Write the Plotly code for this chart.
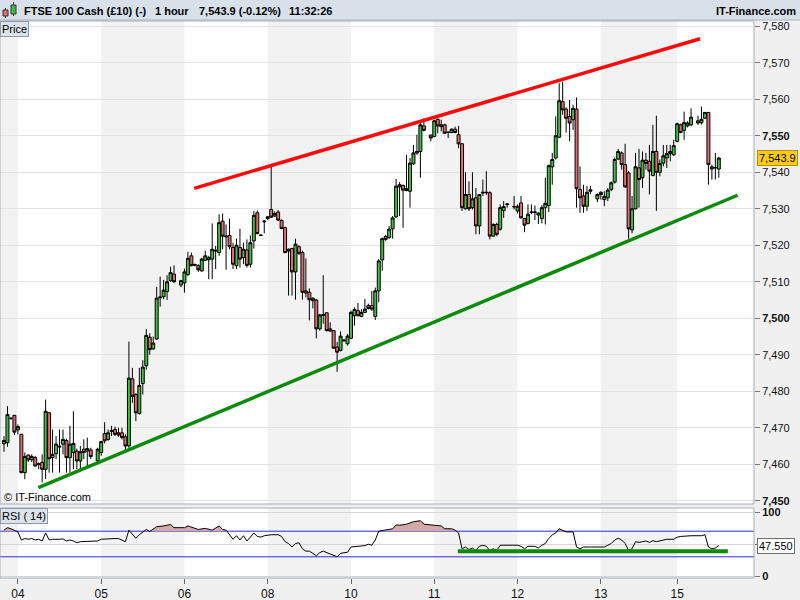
import plotly.graph_objects as go
import numpy as np

# ---------------- data ----------------
day_labels = ["04", "05", "06", "08", "10", "11", "12", "13", "15"]
day_start_slot = [4, 28, 52, 76, 100, 124, 148, 172, 194]
shaded_days = [(-1.2, 4), (28, 52), (76, 100), (124, 148), (172, 194)]
missing_slots = [26, 50, 122, 146, 170, 199]
n_slots = 207
slots = [s for s in range(n_slots) if s not in missing_slots]

opens = [
    # day 04
    7465.6, 7465.9, 7472.5, 7473.4, 7469.4, 7468.2, 7457.7, 7462.5, 7461.2, 7461.8, 7459.9, 7460.5, 7458.6,
    7474.1, 7461.8, 7462.9, 7464.7, 7465.5, 7466.5, 7461.8, 7463.2, 7463.6, 7460.9, 7464.1, 7463.6, 7463.9,
    # day 05
    7460.9, 7463.2, 7468.4, 7466.8, 7469.0, 7469.5, 7468.6, 7468.6, 7467.5, 7465.0, 7483.4, 7479.1, 7473.9,
    7482.1, 7487.0, 7494.8, 7491.6, 7494.3, 7505.6, 7505.9, 7507.3, 7510.3, 7512.1,
    # days 06 - 11
    7509.1, 7509.7, 7512.0, 7517.1, 7514.5, 7514.4, 7513.0, 7515.9, 7516.6, 7516.2, 7518.4, 7518.0, 7526.6,
    7522.3, 7522.7, 7519.4, 7514.4, 7519.4, 7516.6, 7518.7, 7514.8, 7521.2, 7528.9, 7522.8, 7526.4, 7527.3,
    7529.8, 7528.0, 7529.1, 7526.8, 7524.8, 7518.9, 7519.1, 7512.7, 7519.6, 7518.0, 7507.5, 7507.1, 7504.8,
    7505.0, 7497.1, 7500.8, 7501.5, 7497.1, 7496.6, 7492.1, 7491.2, 7493.8, 7493.0, 7494.5, 7500.7, 7502.1,
    7500.5, 7501.6, 7503.5, 7503.5, 7500.5, 7507.5, 7516.0, 7522.4, 7522.1, 7524.5, 7527.8, 7536.6, 7536.4,
    7535.5, 7534.8, 7542.3, 7545.3, 7545.7, 7552.7,
    # day 11 (cont.)
    7550.2, 7549.8, 7554.5, 7553.0, 7553.0, 7550.9, 7550.9, 7551.8, 7550.3, 7547.8, 7530.0, 7533.9, 7530.3,
    7533.0, 7525.3, 7534.3, 7534.4, 7534.4, 7522.5, 7525.7, 7524.4, 7529.5, 7531.2,
    # day 12
    7530.5, 7529.4, 7531.6, 7527.3, 7526.0, 7529.0, 7529.0, 7528.3, 7527.3, 7530.3, 7530.9, 7541.5, 7543.9,
    7549.6, 7559.4, 7557.3, 7555.3, 7554.4, 7557.3, 7535.3, 7533.5, 7530.7, 7534.8,
    # days 13 - 15
    7532.7, 7534.5, 7532.5, 7533.0, 7535.3, 7537.3, 7543.6, 7545.3, 7542.1, 7539.8, 7524.2, 7530.0, 7541.2,
    7538.5, 7543.3, 7543.0, 7539.1, 7545.7, 7540.0, 7542.5, 7543.9, 7545.1, 7544.8, 7548.5, 7553.0, 7551.5,
    7552.7, 7553.0,
    7554.1, 7553.6, 7554.8, 7556.4, 7541.5, 7541.2, 7540.9,
]
highs = [
    7467.7, 7475.9, 7472.8, 7473.5, 7470.9, 7468.3, 7463.2, 7462.7, 7462.7, 7462.3, 7460.5, 7462.7, 7477.7,
    7474.2, 7469.5, 7467.7, 7469.5, 7469.5, 7467.0, 7470.5, 7474.5, 7464.3, 7465.0, 7466.8, 7467.3, 7464.5,
    7464.5, 7466.4, 7471.5, 7469.5, 7470.5, 7470.3, 7470.0, 7470.0, 7468.2, 7493.6, 7486.4, 7479.5, 7486.4,
    7488.5, 7497.0, 7495.9, 7495.0, 7508.6, 7511.4, 7510.5, 7511.8, 7514.1, 7514.5,
    7510.5, 7513.6, 7518.2, 7518.0, 7515.0, 7514.8, 7516.6, 7518.5, 7517.1, 7526.0, 7519.8, 7528.5, 7528.7,
    7525.7, 7527.3, 7520.7, 7521.8, 7524.5, 7520.7, 7521.6, 7522.7, 7529.4, 7529.5, 7522.9, 7526.9, 7528.0,
    7542.1, 7529.3, 7529.6, 7527.1, 7525.1, 7519.1, 7519.3, 7521.8, 7520.0, 7518.5, 7516.4, 7508.2, 7505.7,
    7505.3, 7501.2, 7511.8, 7501.6, 7498.9, 7496.7, 7493.5, 7496.4, 7494.2, 7495.7, 7502.1, 7503.0, 7504.2,
    7502.5, 7505.3, 7504.0, 7507.5, 7508.4, 7516.2, 7522.1, 7522.8, 7525.3, 7528.0, 7538.2, 7537.3, 7536.6,
    7544.8, 7543.9, 7547.5, 7550.3, 7553.5, 7554.8,
    7550.3, 7554.4, 7554.8, 7554.4, 7553.3, 7551.1, 7552.0, 7552.5, 7552.7, 7548.0, 7540.0, 7537.5, 7540.0,
    7535.7, 7534.0, 7538.0, 7540.3, 7534.8, 7526.0, 7526.2, 7531.2, 7532.1, 7531.5,
    7533.5, 7531.2, 7533.5, 7527.5, 7531.2, 7531.2, 7530.9, 7529.0, 7531.0, 7538.5, 7542.1, 7545.3, 7555.3,
    7564.4, 7564.8, 7557.8, 7559.8, 7558.5, 7560.5, 7541.6, 7536.6, 7536.2, 7536.3,
    7534.2, 7534.8, 7534.8, 7535.7, 7537.5, 7544.0, 7546.4, 7545.7, 7547.8, 7540.3, 7533.5, 7545.3, 7546.4,
    7545.7, 7545.3, 7547.5, 7553.0, 7555.5, 7543.5, 7547.5, 7547.5, 7547.5, 7548.9, 7553.6, 7553.3, 7556.6,
    7554.0, 7557.5,
    7555.5, 7558.0, 7556.5, 7556.5, 7542.1, 7545.3, 7544.2,
]
lows = [
    7463.4, 7464.8, 7472.2, 7468.0, 7468.2, 7457.5, 7455.9, 7460.6, 7460.6, 7459.4, 7458.6, 7455.0, 7455.9,
    7457.7, 7457.7, 7461.4, 7457.7, 7462.7, 7457.7, 7457.7, 7458.6, 7458.6, 7458.6, 7461.4, 7459.5, 7461.4,
    7460.5, 7462.3, 7465.7, 7466.4, 7467.7, 7467.7, 7467.5, 7466.8, 7463.6, 7464.5, 7476.8, 7471.8, 7473.6,
    7479.1, 7485.9, 7490.0, 7491.4, 7494.1, 7503.2, 7505.2, 7505.0, 7510.0, 7509.7,
    7508.5, 7507.0, 7511.5, 7514.2, 7514.2, 7512.7, 7512.7, 7515.7, 7510.7, 7510.7, 7513.5, 7517.1, 7518.9,
    7513.3, 7518.9, 7513.5, 7513.5, 7513.9, 7514.8, 7513.9, 7513.9, 7519.1, 7523.0, 7522.5, 7523.3, 7526.9,
    7527.5, 7527.8, 7526.6, 7524.4, 7517.8, 7506.2, 7506.2, 7505.1, 7517.3, 7505.1, 7505.7, 7499.4, 7502.7,
    7494.5, 7496.6, 7498.5, 7496.4, 7496.2, 7491.6, 7485.3, 7490.9, 7493.6, 7492.5, 7494.3, 7498.0, 7500.5,
    7500.3, 7501.4, 7502.4, 7502.0, 7499.5, 7504.4, 7513.0, 7521.2, 7521.8, 7521.8, 7527.5, 7528.0, 7524.8,
    7534.8, 7530.3, 7542.0, 7544.8, 7538.5, 7551.2,
    7548.5, 7549.6, 7550.7, 7551.2, 7550.5, 7549.4, 7550.7, 7550.7, 7546.6, 7529.4, 7529.8, 7529.4, 7529.8,
    7523.0, 7523.0, 7533.5, 7533.8, 7521.6, 7522.4, 7522.5, 7524.0, 7527.5, 7530.3,
    7529.8, 7528.7, 7527.3, 7523.6, 7525.7, 7528.5, 7526.9, 7525.8, 7526.0, 7525.7, 7529.1, 7536.6, 7543.5,
    7549.4, 7555.7, 7550.9, 7548.5, 7551.6, 7530.3, 7528.9, 7528.9, 7529.4, 7534.0,
    7531.8, 7532.5, 7530.7, 7532.1, 7534.8, 7536.9, 7543.5, 7540.7, 7535.7, 7521.8, 7523.3, 7529.8, 7530.3,
    7535.7, 7540.7, 7533.9, 7538.9, 7529.4, 7538.9, 7541.6, 7541.2, 7543.0, 7544.5, 7548.2, 7550.7, 7548.9,
    7552.3, 7552.7,
    7553.0, 7553.1, 7554.6, 7536.6, 7538.0, 7538.0, 7538.5,
]
closes = [
    7466.5, 7473.6, 7472.6, 7468.8, 7470.3, 7457.7, 7462.1, 7461.2, 7462.1, 7459.5, 7460.1, 7458.6, 7474.5,
    7461.5, 7462.7, 7465.5, 7464.9, 7466.8, 7461.8, 7465.5, 7465.7, 7460.9, 7463.4, 7463.2, 7464.3, 7462.1,
    7464.1, 7466.2, 7466.4, 7468.6, 7469.2, 7468.2, 7468.0, 7467.3, 7465.0, 7483.6, 7478.6, 7474.1, 7481.6,
    7486.6, 7495.3, 7491.4, 7493.2, 7505.5, 7505.8, 7507.7, 7510.0, 7512.5, 7510.0,
    7510.3, 7512.7, 7516.4, 7514.4, 7514.7, 7513.3, 7516.2, 7517.1, 7516.0, 7518.9, 7518.6, 7526.2, 7522.5,
    7522.5, 7519.6, 7514.8, 7520.0, 7516.2, 7518.9, 7514.5, 7520.7, 7528.2, 7523.2, 7522.7, 7526.6, 7527.8,
    7527.7, 7528.7, 7526.9, 7524.6, 7518.0, 7518.4, 7512.7, 7520.3, 7517.8, 7507.1, 7506.9, 7505.1, 7505.5,
    7497.1, 7500.9, 7501.0, 7496.6, 7496.5, 7491.8, 7490.7, 7495.1, 7494.0, 7495.1, 7501.6, 7502.4, 7500.7,
    7501.6, 7502.5, 7502.7, 7502.5, 7507.5, 7515.7, 7521.8, 7521.6, 7524.4, 7527.5, 7536.2, 7536.0, 7535.1,
    7535.0, 7542.5, 7545.3, 7545.7, 7553.0, 7551.5,
    7549.4, 7554.1, 7552.7, 7552.5, 7550.7, 7551.0, 7551.8, 7550.9, 7547.8, 7530.3, 7533.9, 7530.0, 7532.7,
    7525.3, 7533.9, 7534.5, 7534.5, 7522.5, 7525.7, 7523.0, 7530.3, 7530.6, 7531.3,
    7530.6, 7530.7, 7527.5, 7525.5, 7528.5, 7529.1, 7529.1, 7528.8, 7530.3, 7531.5, 7541.8, 7543.5, 7550.0,
    7559.6, 7557.1, 7554.8, 7553.5, 7557.5, 7535.5, 7533.0, 7530.7, 7534.5, 7535.2,
    7533.9, 7533.9, 7533.4, 7535.1, 7537.1, 7543.5, 7545.7, 7542.1, 7536.0, 7524.5, 7530.0, 7541.5, 7538.0,
    7543.3, 7542.4, 7540.3, 7545.7, 7540.0, 7542.4, 7544.5, 7545.1, 7545.7, 7547.3, 7553.3, 7550.9, 7553.6,
    7553.5, 7555.1,
    7553.5, 7554.5, 7556.4, 7542.1, 7540.9, 7541.3, 7543.9,
]

rsi_slot = [0, 1, 2, 4, 5, 6, 7, 8, 9, 10, 11, 12, 13, 14, 16, 17, 18, 19, 20, 21, 22, 24, 25, 27, 28, 30, 32,
            33, 35, 36, 37, 38, 39, 40, 41, 42, 44, 46, 48, 49, 52, 53, 55, 56, 58, 60, 62, 63, 64, 65, 66, 67,
            68, 69, 70, 71, 72, 73, 74, 75, 77, 79, 80, 81, 82, 83, 84, 85, 86, 87, 88, 89, 90, 91, 92, 94, 95,
            96, 97, 98, 99, 100, 101, 102, 104, 105, 106, 107, 108, 110, 112, 113, 114, 116, 118, 120, 121, 124,
            126, 127, 129, 130, 131, 132, 133, 134, 135, 136, 137, 138, 139, 140, 141, 142, 143, 145, 147, 148,
            149, 150, 151, 152, 153, 154, 155, 156, 157, 158, 159, 160, 161, 162, 164, 165, 166, 167, 169, 171,
            173, 174, 175, 176, 177, 178, 179, 180, 181, 182, 183, 184, 185, 186, 187, 188, 189, 190, 191, 193,
            194, 195, 197, 198, 200, 201, 202, 203, 204, 205, 206]
rsi_val = [71.6, 75.5, 73.8, 68.9, 56.3, 58.5, 57.4, 58.5, 56.3, 57.4, 54.7, 67.3, 56.3, 57.4, 57.4, 57.9, 54.7,
           56.3, 54.7, 51.9, 53.6, 53.6, 53.6, 54.7, 57.4, 58.5, 58.5, 58.5, 53.6, 71.6, 64.5, 59.0, 64.5, 68.9,
           72.7, 69.5, 77.1, 78.2, 80.4, 75.5, 75.5, 78.2, 74.4, 72.7, 74.4, 71.6, 78.2, 72.7, 71.6, 64.5, 57.4,
           62.9, 56.3, 62.9, 54.7, 60.7, 67.3, 61.8, 60.7, 62.9, 64.5, 64.5, 61.8, 53.6, 50.8, 45.3, 50.8, 51.9,
           42.6, 38.8, 38.8, 35.5, 31.6, 36.6, 38.8, 34.4, 31.6, 30.0, 35.5, 36.6, 37.1, 45.3, 46.4, 46.4, 47.5,
           49.7, 48.1, 56.3, 70.0, 71.6, 73.8, 79.9, 79.3, 81.0, 84.8, 86.4, 81.0, 79.3, 78.2, 73.8, 73.8, 71.6,
           67.3, 42.6, 45.3, 41.5, 43.7, 39.9, 46.4, 48.1, 46.4, 39.9, 42.6, 39.9, 48.1, 48.1, 48.1, 48.1, 46.4,
           42.6, 46.4, 46.4, 46.4, 43.7, 48.1, 50.8, 58.8, 64.2, 67.3, 73.8, 71.6, 68.9, 68.9, 45.3, 42.6, 45.3,
           45.3, 45.3, 45.3, 48.1, 50.8, 56.3, 59.0, 56.3, 50.8, 39.9, 42.6, 53.6, 52.5, 53.6, 54.7, 52.5, 55.2,
           53.6, 54.7, 56.3, 57.4, 57.4, 60.7, 61.8, 62.9, 62.9, 62.9, 62.9, 64.5, 45.3, 42.6, 43.7, 47.55]

resistance_x = [54.8, 200.6]
resistance_y = [7535.6, 7576.6]
support_x = [9.9, 211.4]
support_y = [7453.6, 7533.7]
rsi_support_x = [130.8, 208.6]
rsi_support_y = [38.5, 38.5]

last_price = 7543.9
last_rsi = 47.55
price_ticks = list(range(7450, 7581, 10))
rsi_upper, rsi_lower = 70, 30

# ---------------- geometry helpers (pixel -> paper) ----------------
W, H = 800, 600
ML, MR, MT, MB = 0, 46, 21, 22
PW, PH = W - ML - MR, H - MT - MB


def px(x):
    return (x - ML) / PW


def py(y):
    return (H - MB - y) / PH


FONT = "Liberation Sans, Arial, sans-serif"

fig = go.Figure()

fig.add_trace(go.Candlestick(
    x=slots, open=opens, high=highs, low=lows, close=closes,
    increasing=dict(fillcolor="#3FBF3F", line=dict(color="black", width=1)),
    decreasing=dict(fillcolor="#E46E6E", line=dict(color="black", width=1)),
    whiskerwidth=0, hoverinfo="skip", xaxis="x", yaxis="y", showlegend=False))

fig.add_trace(go.Scatter(x=resistance_x, y=resistance_y, mode="lines",
                         line=dict(color="#FF0A0A", width=3.5), xaxis="x", yaxis="y",
                         hoverinfo="skip", showlegend=False))
fig.add_trace(go.Scatter(x=support_x, y=support_y, mode="lines",
                         line=dict(color="#0B8A0B", width=3.5), xaxis="x", yaxis="y",
                         hoverinfo="skip", showlegend=False))

# RSI panel
rsi_arr = np.array(rsi_val)
fig.add_trace(go.Scatter(x=rsi_slot, y=[rsi_upper] * len(rsi_slot), mode="lines",
                         line=dict(width=0, color="rgba(0,0,0,0)"), xaxis="x", yaxis="y2",
                         hoverinfo="skip", showlegend=False))
fig.add_trace(go.Scatter(x=rsi_slot, y=np.maximum(rsi_arr, rsi_upper), mode="lines",
                         line=dict(width=0, color="rgba(0,0,0,0)"), fill="tonexty",
                         fillcolor="#D3AAA6", xaxis="x", yaxis="y2",
                         hoverinfo="skip", showlegend=False))
fig.add_trace(go.Scatter(x=rsi_slot, y=rsi_val, mode="lines",
                         line=dict(color="black", width=1), xaxis="x", yaxis="y2",
                         hoverinfo="skip", showlegend=False))
fig.add_trace(go.Scatter(x=rsi_support_x, y=rsi_support_y, mode="lines",
                         line=dict(color="#0B8A0B", width=4), xaxis="x", yaxis="y2",
                         hoverinfo="skip", showlegend=False))

shapes = []
# alternating day shading in both panels
for a, b in shaded_days:
    for yr in ("y domain", "y2 domain"):
        shapes.append(dict(type="rect", xref="x", yref=yr, x0=a, x1=b, y0=0, y1=1,
                           fillcolor="#F2F2F2", line=dict(width=0), layer="below"))
# RSI 30 / 70 lines
for lvl in (rsi_upper, rsi_lower):
    shapes.append(dict(type="line", xref="paper", yref="y2", x0=0, x1=1, y0=lvl, y1=lvl,
                       line=dict(color="#2B2BD6", width=1), layer="between"))
# panel frames
for yr in ("y domain", "y2 domain"):
    shapes.append(dict(type="rect", xref="paper", yref=yr, x0=0, x1=1, y0=0, y1=1,
                       line=dict(color="#A3AEB9", width=1), fillcolor="rgba(0,0,0,0)", layer="above"))
# header bar
shapes.append(dict(type="rect", xref="paper", yref="paper", x0=px(0), x1=px(800), y0=py(20), y1=py(0),
                   fillcolor="#D8E1EA", line=dict(width=0), layer="above"))
shapes.append(dict(type="line", xref="paper", yref="paper", x0=px(0), x1=px(800), y0=py(20), y1=py(20),
                   line=dict(color="#A7B3BF", width=1), layer="above"))
# header candle icon
shapes.append(dict(type="line", xref="paper", yref="paper", x0=px(5.5), x1=px(5.5), y0=py(18), y1=py(8),
                   line=dict(color="#333", width=1), layer="above"))
shapes.append(dict(type="rect", xref="paper", yref="paper", x0=px(3), x1=px(8), y0=py(16), y1=py(10),
                   fillcolor="#E46E6E", line=dict(color="#333", width=1), layer="above"))
shapes.append(dict(type="line", xref="paper", yref="paper", x0=px(13.5), x1=px(13.5), y0=py(16), y1=py(2),
                   line=dict(color="#333", width=1), layer="above"))
shapes.append(dict(type="rect", xref="paper", yref="paper", x0=px(11), x1=px(16), y0=py(14), y1=py(5),
                   fillcolor="#3FBF3F", line=dict(color="#333", width=1), layer="above"))

annotations = []


def note(text, x, y, xanchor="left", yanchor="middle", size=11, **kw):
    annotations.append(dict(text=text, x=px(x), y=py(y), xref="paper", yref="paper",
                            xanchor=xanchor, yanchor=yanchor, showarrow=False,
                            font=dict(family=FONT, size=size, color="#000"), **kw))


note("<b>FTSE 100 Cash (£10) (-)</b>", 22, 10.5)
note("<b>1 hour</b>", 153, 10.5)
note("<b>7,543.9 (-0.12%)</b>", 197, 10.5)
note("<b>11:32:26</b>", 287, 10.5)
note("<b>IT-Finance.com</b>", 798, 10.5, xanchor="right")
note("Price", 0, 21, yanchor="top", bgcolor="#DCE3EA", bordercolor="#8E9BA8", borderwidth=1, borderpad=1)
note("RSI ( 14)", 0, 508, yanchor="top", bgcolor="#DCE3EA", bordercolor="#8E9BA8", borderwidth=1, borderpad=1)
note("© IT-Finance.com", 2, 497)

annotations.append(dict(text="7,543.9", x=px(757), y=last_price, xref="paper", yref="y",
                        xanchor="left", yanchor="middle", showarrow=False,
                        font=dict(family=FONT, size=11, color="#000"),
                        bgcolor="#FFCC11", bordercolor="#B58E00", borderwidth=1, borderpad=1))
annotations.append(dict(text="47.550", x=px(757), y=last_rsi, xref="paper", yref="y2",
                        xanchor="left", yanchor="middle", showarrow=False,
                        font=dict(family=FONT, size=11, color="#000"),
                        bgcolor="#FFFFFF", bordercolor="#6E6E6E", borderwidth=1, borderpad=1))

price_ticktext = [("<b>%s</b>" % f"{v:,}") if v % 50 == 0 else f"{v:,}" for v in price_ticks]

fig.update_layout(
    width=W, height=H,
    margin=dict(l=ML, r=MR, t=MT, b=MB, pad=0),
    paper_bgcolor="#F0F0F0", plot_bgcolor="#FFFFFF",
    font=dict(family=FONT, size=11, color="#000"),
    showlegend=False, hovermode=False,
    boxgap=0.1, boxgroupgap=0.05,
    xaxis=dict(range=[(0 - 4) / 3.47, (754 - 4) / 3.47], anchor="y2",
               tickvals=day_start_slot, ticktext=day_labels, ticks="outside", ticklen=5,
               tickcolor="#666", tickfont=dict(size=12, family=FONT, color="#111"),
               showgrid=False, zeroline=False, showline=False,
               rangeslider=dict(visible=False), fixedrange=True),
    yaxis=dict(domain=[py(504), py(21)], range=[7449.1, 7581.45], side="right", anchor="x",
               tickvals=price_ticks, ticktext=price_ticktext, ticks="outside", ticklen=5,
               tickcolor="#777", tickfont=dict(size=11, family=FONT, color="#111"),
               showgrid=True, gridcolor="#E3E3E3", gridwidth=1, zeroline=False, showline=False,
               fixedrange=True),
    yaxis2=dict(domain=[py(578), py(508)], range=[-3.125, 106.25], side="right", anchor="x",
                tickvals=[0, 50, 100], ticktext=["<b>0</b>", "", "<b>100</b>"], ticks="outside",
                ticklen=5, tickcolor="#777", tickfont=dict(size=11, family=FONT, color="#111"),
                showgrid=True, gridcolor="#D6D6D6", zeroline=False, showline=False, fixedrange=True),
    shapes=shapes,
    annotations=annotations,
)

fig.write_html("out.html", config={"displayModeBar": False},
               post_script="document.body.style.margin='0';document.body.style.padding='0';")
